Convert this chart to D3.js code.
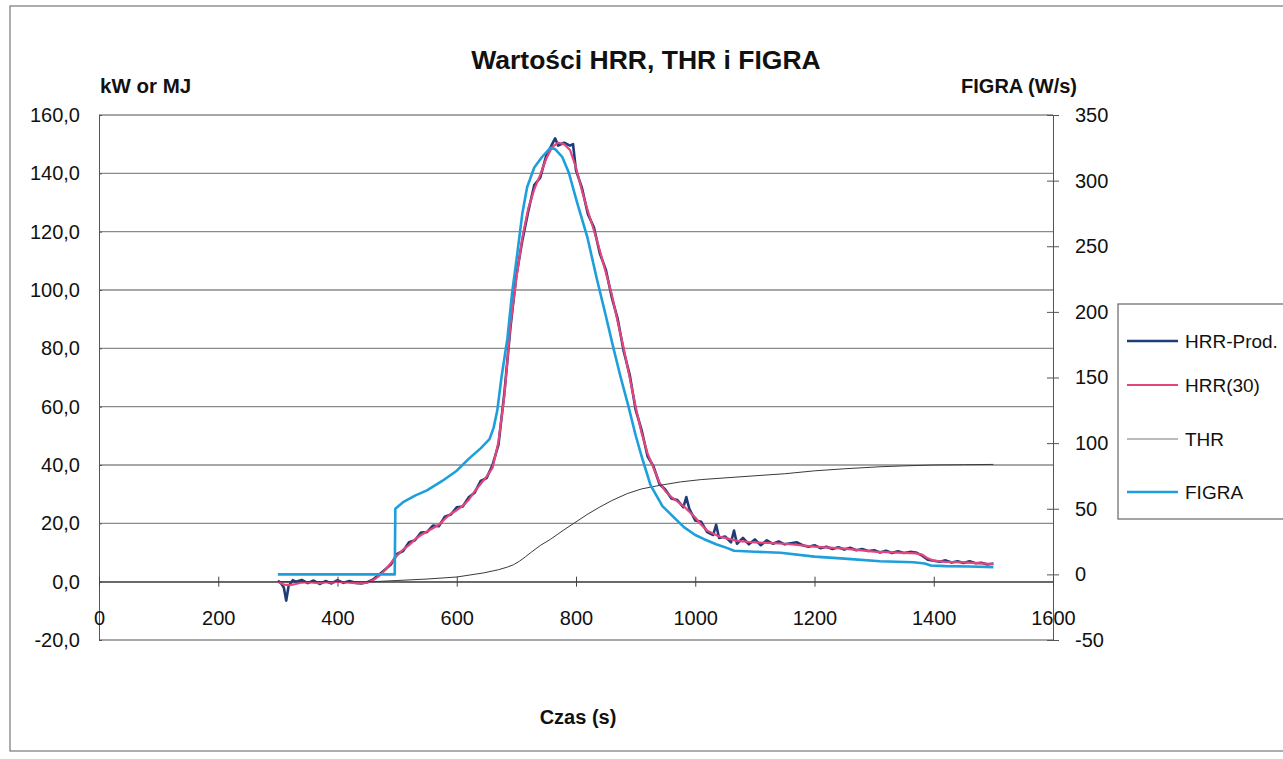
<!DOCTYPE html>
<html><head><meta charset="utf-8">
<script src="https://cdn.jsdelivr.net/npm/d3@7"></script>
<style>
body{margin:0;background:#fff;}
text{font-family:"Liberation Sans",Arial,sans-serif;fill:#111;}
</style>
</head><body>
<svg id="c" width="1283" height="759"></svg>
<script>
// ---------- DATA ----------
const chartTitle = "Wartości HRR, THR i FIGRA";
const leftAxisTitle = "kW or MJ";
const rightAxisTitle = "FIGRA (W/s)";
const xAxisTitle = "Czas (s)";
const seriesNames = ["HRR-Prod.", "HRR(30)", "THR", "FIGRA"];
const xTicks = [0,200,400,600,800,1000,1200,1400,1600];
const leftTicks = [160,140,120,100,80,60,40,20,0,-20];
const rightTicks = [350,300,250,200,150,100,50,0,-50];

const hrrProdTime = [300,305,310,314,318,325,330,340,350,360,370,380,390,400,410,420,430,440,450,460,470,480,490,500,510,520,530,540,550,560,570,580,590,600,610,620,630,640,650,660,670,680,690,700,710,720,730,740,750,760,765,770,780,790,795,800,810,820,830,840,850,860,870,880,890,900,910,920,930,940,950,960,970,980,985,990,1000,1010,1020,1030,1035,1040,1050,1060,1065,1070,1080,1090,1100,1110,1120,1130,1140,1150,1160,1170,1180,1190,1200,1210,1220,1230,1240,1250,1260,1270,1280,1290,1300,1310,1320,1330,1340,1350,1360,1370,1380,1390,1400,1410,1420,1430,1440,1450,1460,1470,1480,1490,1500];
const hrrProdValues = [0.3,-0.5,-2.0,-6.5,-1.5,0.5,0.0,0.6,-0.5,0.4,-0.8,0.2,-0.6,0.5,-0.4,0.2,-0.4,-0.6,-0.2,0.8,2.5,4.2,6.0,9.5,10.5,13.5,14.2,16.8,17.0,19.2,19.0,22.3,23.0,25.5,25.8,28.9,30.5,34.5,35.5,40.0,47.0,65.0,87.0,105.0,117.0,127.0,136.0,138.5,146.0,150.0,152.0,149.5,150.5,149.5,150.0,141.0,135.0,126.0,121.5,112.5,107.0,97.5,90.0,79.0,71.0,59.0,52.0,43.0,39.5,33.5,31.5,28.5,28.0,25.5,29.0,25.0,21.0,20.5,17.0,16.0,19.5,15.0,15.5,13.5,17.5,13.0,15.0,12.8,14.5,12.5,14.2,13.0,13.8,12.8,13.2,13.5,12.5,12.0,12.5,11.5,12.0,11.2,11.8,11.0,11.6,10.8,11.2,10.5,10.8,10.0,10.6,9.8,10.4,9.8,10.2,10.0,9.0,7.5,7.2,6.8,7.3,6.6,7.0,6.4,7.0,6.3,6.5,5.9,6.2];

const hrr30Time = [300,310,320,330,340,350,360,370,380,390,400,410,420,430,440,450,460,470,480,490,500,510,520,530,540,550,560,570,580,590,600,610,620,630,640,650,660,670,680,690,700,710,720,730,740,750,760,770,780,790,800,810,820,830,840,850,860,870,880,890,900,910,920,930,940,950,960,970,980,990,1000,1010,1020,1030,1040,1050,1060,1070,1080,1090,1100,1150,1200,1250,1300,1350,1370,1380,1390,1400,1420,1450,1480,1500];
const hrr30Values = [0.0,-1.0,-1.2,-0.8,-0.3,-0.2,-0.3,-0.5,-0.2,-0.3,0.0,-0.2,-0.3,-0.5,-0.5,-0.3,0.5,2.0,4.0,6.5,9.0,11.0,12.5,14.5,16.0,17.2,18.3,19.5,21.5,23.3,24.5,26.0,28.0,31.0,33.5,36.0,39.0,48.0,64.0,88.0,104.0,118.0,128.0,134.5,139.5,145.0,149.0,150.5,150.0,148.0,142.0,134.0,127.0,120.5,113.5,106.0,98.5,89.0,80.0,70.0,60.0,51.0,44.0,39.0,34.0,31.0,29.0,27.5,26.0,24.0,22.0,19.5,17.5,16.5,15.5,15.0,14.5,14.0,13.8,13.6,13.5,13.0,12.0,11.3,10.3,9.9,9.7,9.3,8.0,7.2,6.8,6.6,6.3,6.0];

const thrTime = [300,460,500,550,600,645,670,685,695,705,715,725,740,757,780,800,820,840,860,886,910,940,975,1010,1065,1100,1150,1200,1250,1310,1350,1400,1450,1500];
const thrValues = [0,0,0.4,0.9,1.6,3.0,4.1,5.0,5.8,7.0,8.5,10.1,12.4,14.5,17.8,20.5,23.2,25.6,27.8,30.2,31.8,33.0,34.2,35.0,35.8,36.3,37.0,38.0,38.7,39.4,39.7,40.0,40.1,40.2];

const figraTime = [300,496,497,510,530,550,575,600,620,640,655,662,668,675,685,693,702,710,718,730,743,757,765,777,788,802,819,835,850,863,875,888,900,910,925,945,965,981,1000,1014,1035,1054,1065,1100,1143,1200,1250,1310,1366,1385,1395,1420,1460,1500];
const figraValues = [0,0,50,55,60,64,71,79,88,96,103,112,125,150,180,215,246,275,295,310,318,325,324,318,306,283,257,225,197,172,150,128,106,90,68,52,43,36,30,27,23,20,18,17.2,16.5,13.5,12,10,9.2,8.3,6.8,6.3,6.0,5.5];

// ---------- LAYOUT ----------
const svg = d3.select("#c");
const X0 = 99, X1 = 1053, Y0 = 115, Y1 = 640;
const x = d3.scaleLinear().domain([0,1600]).range([X0,X1]);
const yL = d3.scaleLinear().domain([-20,160]).range([Y1,Y0]);
const yR = d3.scaleLinear().domain([-50,350]).range([Y1,Y0]);
const loc = d3.formatLocale({decimal:",",thousands:" ",grouping:[3],currency:["",""],minus:"-"});
const fmtL = loc.format(".1f");
const fmtR = loc.format("d");

// outer border
svg.append("rect").attr("x",10).attr("y",6).attr("width",1300).attr("height",745)
  .attr("fill","none").attr("stroke","#777").attr("stroke-width",1.2);

// gridlines
svg.append("g").selectAll("line").data(leftTicks).join("line")
  .attr("x1",X0).attr("x2",X1).attr("y1",d=>yL(d)).attr("y2",d=>yL(d))
  .attr("stroke","#8a8a8a").attr("stroke-width",1.3);

// left axis
const gL = svg.append("g").attr("transform",`translate(${X0},0)`)
  .call(d3.axisLeft(yL).tickValues(leftTicks).tickFormat(fmtL).tickSize(5).tickSizeOuter(0).tickPadding(14));
gL.select(".domain").attr("stroke","#555");
gL.selectAll(".tick line").attr("stroke","#555").attr("x2",3);
gL.selectAll("text").style("font-size","20px").attr("fill","#111");

// right axis
const gR = svg.append("g").attr("transform",`translate(${X1},0)`)
  .call(d3.axisRight(yR).tickValues(rightTicks).tickFormat(fmtR).tickSize(6).tickSizeOuter(0).tickPadding(16));
gR.select(".domain").attr("stroke","#555");
gR.selectAll(".tick line").attr("stroke","#555").attr("x1",-6);
gR.selectAll("text").style("font-size","20px").attr("fill","#111");

// x axis at 0
const gX = svg.append("g").attr("transform",`translate(0,${yL(0)})`)
  .call(d3.axisBottom(x).tickValues(xTicks).tickFormat(d3.format("d")).tickSize(5).tickSizeOuter(0).tickPadding(24));
gX.select(".domain").attr("stroke","#444").attr("stroke-width",1.2);
gX.selectAll(".tick line").attr("stroke","#444").attr("y1",-5);
gX.selectAll("text").style("font-size","20px").attr("fill","#111");

// lines
const mk = (t,v,ys)=>d3.line().x((d,i)=>x(t[i])).y(d=>ys(d))(v);
const colors = {prod:"#1e3c78", h30:"#e6447d", thr:"#3a3a3a", figra:"#1d9fdc"};
svg.append("path").attr("d",mk(hrrProdTime,hrrProdValues,yL)).attr("fill","none")
  .attr("stroke",colors.prod).attr("stroke-width",2.6).attr("stroke-linejoin","round");
svg.append("path").attr("d",mk(hrr30Time,hrr30Values,yL)).attr("fill","none")
  .attr("stroke",colors.h30).attr("stroke-width",2.2).attr("stroke-linejoin","round");
svg.append("path").attr("d",mk(thrTime,thrValues,yL)).attr("fill","none")
  .attr("stroke",colors.thr).attr("stroke-width",1);
svg.append("path").attr("d",mk(figraTime,figraValues,yR)).attr("fill","none")
  .attr("stroke",colors.figra).attr("stroke-width",2.6).attr("stroke-linejoin","round");

// titles
svg.append("text").attr("x",646).attr("y",69).attr("text-anchor","middle")
  .style("font-size","26.5px").style("font-weight","bold").text(chartTitle);
svg.append("text").attr("x",100).attr("y",93)
  .style("font-size","20.5px").style("font-weight","bold").text(leftAxisTitle);
svg.append("text").attr("x",1077).attr("y",93).attr("text-anchor","end")
  .style("font-size","20px").style("font-weight","bold").text(rightAxisTitle);
svg.append("text").attr("x",578).attr("y",724).attr("text-anchor","middle")
  .style("font-size","20px").style("font-weight","bold").text(xAxisTitle);

// legend
const lg = svg.append("g");
lg.append("rect").attr("x",1118).attr("y",304).attr("width",200).attr("height",215)
  .attr("fill","#fff").attr("stroke","#666").attr("stroke-width",1.2);
const legY = [341,385,439,492];
const legC = [colors.prod, colors.h30, "#777", colors.figra];
const legW = [2.6,2.2,1,2.6];
seriesNames.forEach((n,i)=>{
  lg.append("line").attr("x1",1127).attr("x2",1178).attr("y1",legY[i]).attr("y2",legY[i])
    .attr("stroke",legC[i]).attr("stroke-width",legW[i]);
  lg.append("text").attr("x",1185).attr("y",legY[i]+7).style("font-size","19px").text(n);
});
</script>
</body></html>
